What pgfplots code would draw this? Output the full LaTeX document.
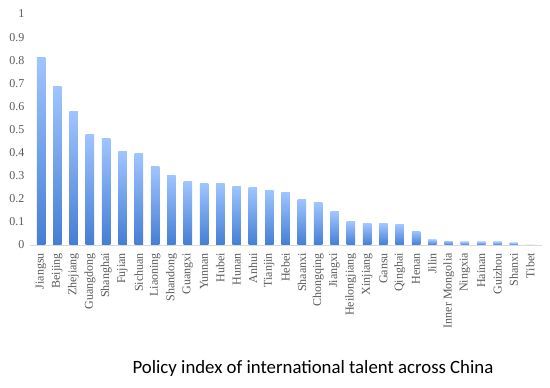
\documentclass[border=0pt]{standalone}
\usepackage{pgfplots}
\pgfplotsset{compat=1.18}
\usepackage{fontspec}
\setmainfont{Liberation Serif}
\newfontfamily\titlefont{Carlito}
\definecolor{bartop}{RGB}{160,196,255}
\definecolor{barbot}{RGB}{68,126,212}
\definecolor{ticktext}{RGB}{89,89,89}
\pgfplotsset{mybar/.style={ybar, bar width=8.5pt, bar shift=0pt, draw=none, top color=bartop, bottom color=barbot}}
\newcommand\onebar[2]{\addplot[mybar] coordinates {(#1,#2)};}
\begin{document}
\begin{tikzpicture}
\useasboundingbox (0,0) rectangle (550pt,388pt);
\begin{axis}[
  at={(29.6pt,143pt)}, anchor=south west,
  scale only axis, width=512pt, height=231pt,
  xmin=-0.7, xmax=30.7, ymin=0, ymax=1,
  axis x line*=bottom, axis y line*=left,
  y axis line style={draw=none},
  x axis line style={draw=black!15, line width=0.8pt},
  ytick={0,0.1,0.2,0.3,0.4,0.5,0.6,0.7,0.8,0.9,1},
  xtick={0,1,...,30},
  xticklabels={Jiangsu,Beijing,Zhejiang,Guangdong,Shanghai,Fujian,Sichuan,Liaoning,Shandong,Guangxi,Yunnan,Hubei,Hunan,Anhui,Tianjin,Hebei,Shaanxi,Chongqing,Jiangxi,Heilongjiang,Xinjiang,Gansu,Qinghai,Henan,Jilin,Inner Mongolia,Ningxia,Hainan,Guizhou,Shanxi,Tibet},
  major tick length=0pt,
  /pgf/number format/.cd, fixed, precision=1, assume math mode=true,
  /pgfplots/.cd,
  yticklabel style={font=\fontsize{12pt}{12pt}\selectfont, text=ticktext, anchor=east, inner sep=0pt, xshift=-5pt},
  xticklabel style={font=\fontsize{12pt}{12pt}\selectfont, text=ticktext, yshift=-8pt, rotate=90, anchor=east, inner sep=0pt},
]
\onebar{0}{0.810}
\onebar{1}{0.684}
\onebar{2}{0.580}
\onebar{3}{0.480}
\onebar{4}{0.459}
\onebar{5}{0.403}
\onebar{6}{0.394}
\onebar{7}{0.338}
\onebar{8}{0.303}
\onebar{9}{0.273}
\onebar{10}{0.268}
\onebar{11}{0.268}
\onebar{12}{0.255}
\onebar{13}{0.247}
\onebar{14}{0.238}
\onebar{15}{0.229}
\onebar{16}{0.199}
\onebar{17}{0.182}
\onebar{18}{0.143}
\onebar{19}{0.100}
\onebar{20}{0.091}
\onebar{21}{0.091}
\onebar{22}{0.087}
\onebar{23}{0.060}
\onebar{24}{0.022}
\onebar{25}{0.017}
\onebar{26}{0.013}
\onebar{27}{0.013}
\onebar{28}{0.013}
\onebar{29}{0.009}
\addplot[ybar, bar width=8.5pt, bar shift=0pt, draw=none, fill=barbot] coordinates {(30,0)};
\end{axis}
\node[font=\titlefont\fontsize{18.8pt}{18.8pt}\selectfont, text=black] at (313pt,19.5pt) {Policy index of international talent across China};
\end{tikzpicture}
\end{document}
